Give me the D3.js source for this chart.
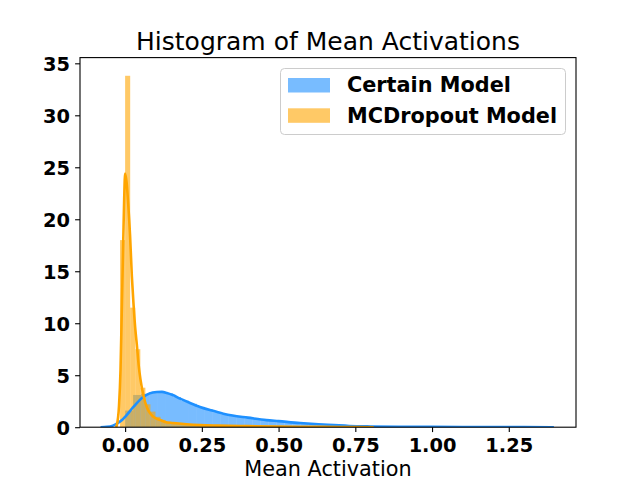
<!DOCTYPE html>
<html>
<head>
<meta charset="utf-8">
<script src="https://cdn.jsdelivr.net/npm/d3@7/dist/d3.min.js"></script>
<style>
  body { margin: 0; background: #fff; }
  text { font-family: "DejaVu Sans", sans-serif; }
</style>
</head>
<body>
<svg id="chart" width="640" height="480"></svg>
<script>
// histogram bins (density values)
const certainBinStart = 0.0
const certainBinWidth = 0.026
const certainCounts = [1.6, 3.1, 3.2, 3.35, 3.4, 3.25, 2.9, 2.55, 2.25, 1.95, 1.7, 1.45, 1.25, 1.1, 1.0,
  0.9, 0.8, 0.7, 0.62, 0.55, 0.47, 0.41, 0.36, 0.31, 0.26, 0.22, 0.18, 0.14, 0.11, 0.09, 0.07, 0.06,
  0.05, 0.04, 0.035, 0.03, 0.025, 0.02, 0.02, 0.015, 0.015, 0.01, 0.01, 0.01, 0.01, 0.01, 0.008,
  0.008, 0.005, 0.005]

const dropoutBinStart = -0.0165
const dropoutBinWidth = 0.0165
const dropoutCounts = [18, 33.8, 11.5, 7.5, 3.8, 2.2, 1.5, 1.0, 0.7, 0.5, 0.4, 0.35, 0.3, 0.25, 0.22,
  0.2, 0.18, 0.16, 0.14, 0.12, 0.11, 0.1, 0.09, 0.08, 0.07, 0.06, 0.06, 0.05, 0.05, 0.04, 0.04, 0.03,
  0.03, 0.03, 0.02, 0.02, 0.02, 0.02, 0.01, 0.01, 0.01, 0.01, 0.01, 0.01, 0.01, 0.01, 0.01, 0.01, 0.01]

// kde curves
const certainKdeX = [-0.08, -0.06, -0.04, -0.027, -0.01, 0, 0.027, 0.059, 0.08, 0.103, 0.12, 0.136,
  0.155, 0.179, 0.21, 0.244, 0.28, 0.32, 0.35, 0.40, 0.46, 0.5, 0.57, 0.63, 0.68, 0.73, 0.8, 0.9,
  1.0, 1.1, 1.2, 1.3, 1.397]
const certainKdeY = [0, 0.03, 0.15, 0.35, 0.7, 1.0, 1.95, 2.9, 3.25, 3.38, 3.4, 3.3, 3.1, 2.75, 2.35,
  1.95, 1.62, 1.3, 1.12, 0.92, 0.68, 0.58, 0.4, 0.28, 0.2, 0.12, 0.07, 0.04, 0.03, 0.02, 0.015, 0.01, 0]

const dropoutKdeX = [-0.03, -0.027, -0.02, -0.015, -0.011, -0.006, -0.003, 0, 0.005, 0.01, 0.016,
  0.022, 0.027, 0.033, 0.038, 0.044, 0.05, 0.06, 0.071, 0.08, 0.09, 0.1, 0.114, 0.13, 0.156, 0.2,
  0.244, 0.3, 0.4, 0.5, 0.6, 0.7, 0.81]
const dropoutKdeY = [0, 0.2, 2, 5.5, 11, 18, 22, 24.4, 23.5, 21.5, 18.5, 14.5, 12, 9.5, 8, 6, 4.6,
  3.0, 1.9, 1.4, 1.05, 0.85, 0.7, 0.5, 0.4, 0.28, 0.2, 0.15, 0.1, 0.06, 0.04, 0.02, 0]

const xTicks = [0.0, 0.25, 0.5, 0.75, 1.0, 1.25]
const yTicks = [0, 5, 10, 15, 20, 25, 30, 35]
const seriesNames = ['Certain Model', 'MCDropout Model']
const seriesColors = ['#1e90ff', '#ffa500']

const svg = d3.select('#chart')
const plotLeft = 80, plotRight = 576, plotTop = 57.6, plotBottom = 427.2

const x = d3.scaleLinear().domain([-0.147, 1.469]).range([plotLeft, plotRight])
const y = d3.scaleLinear().domain([0, 35.55]).range([plotBottom, plotTop])

function drawBars(counts, start, width, color) {
  svg.append('g')
    .selectAll('rect')
    .data(counts)
    .join('rect')
    .attr('x', (d, i) => x(start + i * width))
    .attr('width', (d, i) => x(start + (i + 1) * width) - x(start + i * width))
    .attr('y', d => y(d))
    .attr('height', d => y(0) - y(d))
    .attr('fill', color)
    .attr('fill-opacity', 0.6)
}

drawBars(certainCounts, certainBinStart, certainBinWidth, seriesColors[0])
drawBars(dropoutCounts, dropoutBinStart, dropoutBinWidth, seriesColors[1])

svg.append('clipPath').attr('id', 'plot-clip')
  .append('rect')
  .attr('x', plotLeft).attr('y', plotTop)
  .attr('width', plotRight - plotLeft).attr('height', plotBottom - plotTop)

const line = d3.line()
  .x(d => x(d[0]))
  .y(d => y(d[1]))
  .curve(d3.curveMonotoneX)

const lines = svg.append('g').attr('clip-path', 'url(#plot-clip)')
lines.append('path')
  .attr('d', line(d3.zip(certainKdeX, certainKdeY)))
  .attr('fill', 'none')
  .attr('stroke', seriesColors[0])
  .attr('stroke-width', 2.6)
lines.append('path')
  .attr('d', line(d3.zip(dropoutKdeX, dropoutKdeY)))
  .attr('fill', 'none')
  .attr('stroke', seriesColors[1])
  .attr('stroke-width', 2.6)

// axes
const xAxis = svg.append('g')
  .attr('transform', `translate(0,${plotBottom})`)
  .call(d3.axisBottom(x).tickValues(xTicks).tickSize(4.9).tickPadding(6).tickFormat(d3.format('.2f')))
const yAxis = svg.append('g')
  .attr('transform', `translate(${plotLeft},0)`)
  .call(d3.axisLeft(y).tickValues(yTicks).tickSize(4.9).tickPadding(5.1))

;[xAxis, yAxis].forEach(function(ax) {
  ax.select('.domain').remove()
  ax.selectAll('line').attr('stroke', '#000').attr('stroke-width', 1.1)
  ax.selectAll('text')
    .attr('fill', '#000')
    .style('font-family', '"DejaVu Sans", sans-serif')
    .style('font-size', '19.4px')
    .style('font-weight', 'bold')
})
yAxis.selectAll('text').attr('dy', '0.36em')

svg.append('rect')
  .attr('x', plotLeft).attr('y', plotTop)
  .attr('width', plotRight - plotLeft).attr('height', plotBottom - plotTop)
  .attr('fill', 'none')
  .attr('stroke', '#000')
  .attr('stroke-width', 1.1)

svg.append('text')
  .attr('x', (plotLeft + plotRight) / 2)
  .attr('y', 50)
  .attr('text-anchor', 'middle')
  .style('font-size', '25px')
  .text('Histogram of Mean Activations')

svg.append('text')
  .attr('x', (plotLeft + plotRight) / 2)
  .attr('y', 476)
  .attr('text-anchor', 'middle')
  .style('font-size', '20.8px')
  .text('Mean Activation')

// legend
const legend = svg.append('g')
legend.append('rect')
  .attr('x', 280.5).attr('y', 68.5)
  .attr('width', 285).attr('height', 66)
  .attr('rx', 4).attr('ry', 4)
  .attr('fill', '#fff').attr('fill-opacity', 0.8)
  .attr('stroke', '#cccccc')

seriesNames.forEach(function(name, i) {
  const rowY = 85 + i * 30.3
  legend.append('rect')
    .attr('x', 288).attr('y', rowY - 7)
    .attr('width', 42).attr('height', 14.5)
    .attr('fill', seriesColors[i])
    .attr('fill-opacity', 0.6)
  legend.append('text')
    .attr('x', 347).attr('y', rowY + 7.3)
    .style('font-size', '20.8px')
    .style('font-weight', 'bold')
    .text(name)
})
</script>
</body>
</html>
